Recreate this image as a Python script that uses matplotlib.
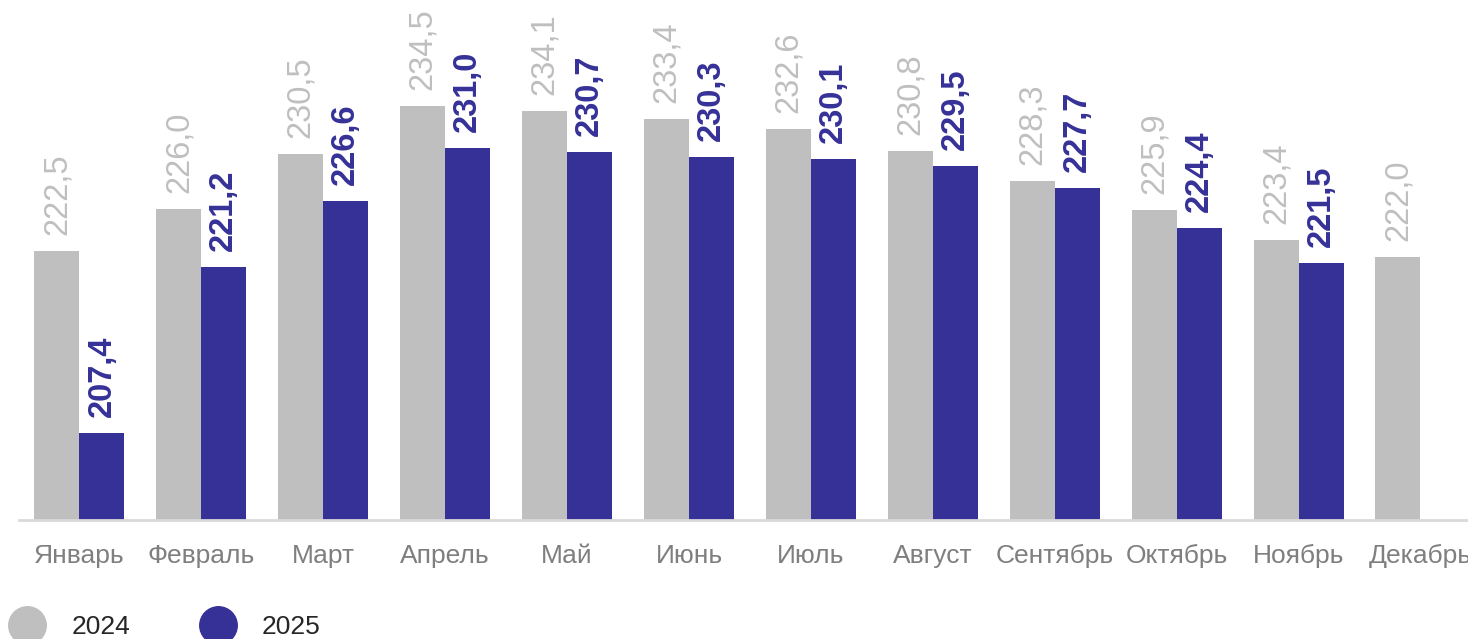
import numpy as np
import matplotlib
matplotlib.use('Agg')
import matplotlib.pyplot as plt
from matplotlib.lines import Line2D

months = ['Январь', 'Февраль', 'Март', 'Апрель', 'Май', 'Июнь',
          'Июль', 'Август', 'Сентябрь', 'Октябрь', 'Ноябрь', 'Декабрь']
vals_2024 = [222.5, 226.0, 230.5, 234.5, 234.1, 233.4, 232.6, 230.8, 228.3, 225.9, 223.4, 222.0]
vals_2025 = [207.4, 221.2, 226.6, 231.0, 230.7, 230.3, 230.1, 229.5, 227.7, 224.4, 221.5]

gray = '#BFBFBF'
blue = '#353197'

plt.rcParams['font.family'] = ['Liberation Sans', 'DejaVu Sans']

W, H = 1468, 639
fig = plt.figure(figsize=(W / 100, H / 100), dpi=100)
ax = fig.add_axes([19 / W, 119 / H, (W - 19) / W, 520 / H])

x = np.arange(len(months))
w = 0.369
ax.bar(x[:len(vals_2024)] - w / 2, vals_2024, w, color=gray)
ax.bar(x[:len(vals_2025)] + w / 2, vals_2025, w, color=blue)

def fmt(v):
    return f'{v:.1f}'.replace('.', ',')

# value labels, rotated above each bar
for xi, v in zip(x, vals_2024):
    ax.annotate(fmt(v), (xi - w / 2, v), xytext=(0, 11.5), textcoords='offset points',
                rotation=90, ha='center', va='bottom', fontsize=23.5, color=gray)
for xi, v in zip(x, vals_2025):
    ax.annotate(fmt(v), (xi + w / 2, v), xytext=(0, 11.5), textcoords='offset points',
                rotation=90, ha='center', va='bottom', fontsize=23.5, color=blue,
                fontweight='bold')

ymin = 200.2
ax.set_ylim(ymin, ymin + 520 / 12.07)
ax.set_xlim(-0.496, 11.39)

ax.set_xticks(x)
ax.set_xticklabels(months, fontsize=19, color='#7F7F7F')
ax.tick_params(axis='x', length=0, pad=17)
ax.set_yticks([])
for s in ['top', 'right', 'left']:
    ax.spines[s].set_visible(False)
ax.spines['bottom'].set_color('#D9D9D9')
ax.spines['bottom'].set_linewidth(2)

handles = [Line2D([], [], marker='o', linestyle='', markersize=27, color=gray),
           Line2D([], [], marker='o', linestyle='', markersize=27, color=blue)]
fig.legend(handles, ['2024', '2025'], loc='center left',
           bbox_to_anchor=(8 / W, (H - 627) / H), ncol=2, frameon=False,
           fontsize=19, handlelength=1.45, handletextpad=0.95, columnspacing=2.6,
           borderpad=0, borderaxespad=0, labelcolor='#262626')

fig.savefig('out.png', dpi=100)
